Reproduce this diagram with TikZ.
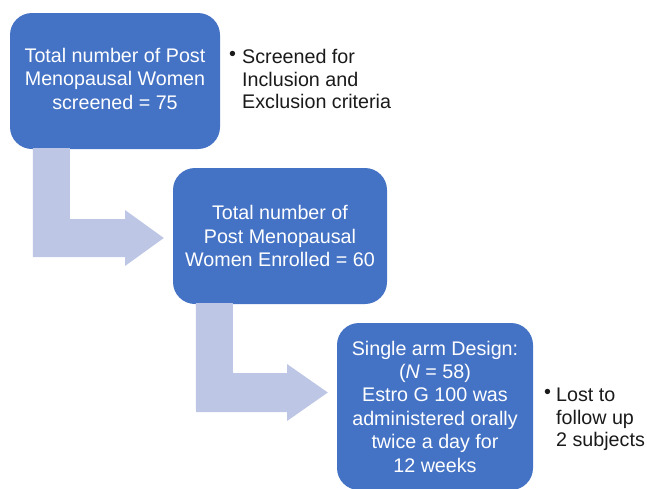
\documentclass[tikz,border=0pt]{standalone}
\usepackage{fontspec}
\setmainfont{Liberation Sans}
\definecolor{boxblue}{HTML}{4472C4}
\definecolor{arrowblue}{HTML}{BDC7E5}
\definecolor{bullettext}{HTML}{1A1A1A}
\begin{document}
\begin{tikzpicture}[x=1pt,y=-1pt,
  flowbox/.style={fill=boxblue, rounded corners=22pt, text=white, align=center,
    inner sep=0pt, font=\fontsize{19.7}{23.4}\selectfont},
  bulletnote/.style={text=bullettext, align=left, inner sep=0pt, anchor=west,
    font=\fontsize{19.7}{22.4}\selectfont},
  bentarrow/.style={fill=arrowblue, draw=none}]
\useasboundingbox (0,0) rectangle (647,488);
\clip (0,0) rectangle (647,488);

% boxes
\node[flowbox, minimum width=210pt, minimum height=136pt] (b1) at (115,81)
  {Total number of Post\\Menopausal Women\\screened = 75\rule[-5pt]{0pt}{0pt}};
\node[flowbox, minimum width=214pt, minimum height=136pt] (b2) at (280,236)
  {Total number of\\Post Menopausal\\Women Enrolled = 60};
\node[flowbox, minimum width=196pt, minimum height=167pt] (b3) at (435,406.5)
  {Single arm Design:\\(\textit{N} = 58)\\Estro G 100 was\\administered orally\\twice a day for\\12 weeks};

% bent arrows (connectors)
\coordinate (a1s) at ([xshift=23pt,yshift=1pt]b1.south west);
\coordinate (a1t) at ([xshift=-9pt]b2.west |- 0,238);
\fill[bentarrow] (a1s) -- ++(37,0) -- (70,219) -- (125,219) -- (125,210) -- (a1t)
  -- (125,266) -- (125,257) -- (33,257) -- cycle;

\coordinate (a2s) at ([xshift=23pt,yshift=1pt]b2.south west);
\coordinate (a2t) at ([xshift=-9pt]b3.west |- 0,392.5);
\fill[bentarrow] (a2s) -- ++(37,0) -- (233,373) -- (287,373) -- (287,364) -- (a2t)
  -- (287,421) -- (287,412) -- (196,412) -- cycle;

% bullet notes
\node[text=bullettext, inner sep=0pt, font=\fontsize{19.7}{22.4}\selectfont] (d1) at (232.5,56) {•};
\node[bulletnote] (n1) at (242,79) {Screened for\\Inclusion and\\Exclusion criteria};
\node[text=bullettext, inner sep=0pt, font=\fontsize{19.7}{22.4}\selectfont] (d2) at (547.5,394) {•};
\node[bulletnote] (n2) at (556,419.5) {Lost to\\follow up\\2 subjects};
\end{tikzpicture}
\end{document}
